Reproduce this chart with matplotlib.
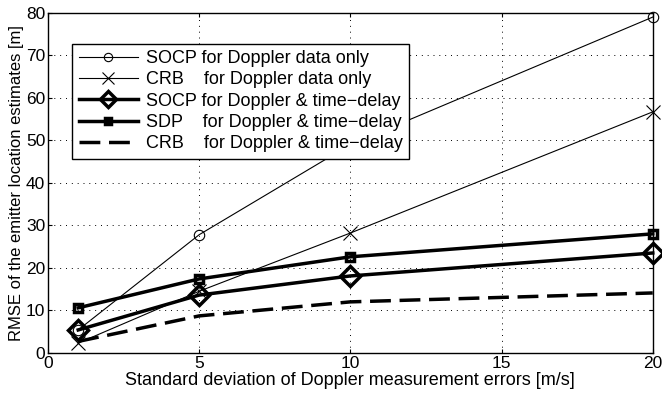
import matplotlib
matplotlib.use('Agg')
import matplotlib.pyplot as plt

plt.rcParams['font.family'] = ['Liberation Sans', 'DejaVu Sans']

sigma = [1, 5, 10, 20]
socp_dopp = [5.4, 27.8, 49.0, 79.0]
crb_dopp = [2.3, 14.5, 28.2, 56.7]
socp_both = [5.4, 13.6, 18.1, 23.5]
sdp_both = [10.6, 17.4, 22.6, 28.0]
crb_both = [2.7, 8.7, 12.0, 14.1]

labels = ['SOCP for Doppler data only',
          'CRB    for Doppler data only',
          'SOCP for Doppler & time\u2212delay',
          'SDP    for Doppler & time\u2212delay',
          'CRB    for Doppler & time\u2212delay']

fig = plt.figure(figsize=(6.62, 4.01), dpi=100)
ax = fig.add_axes([0.0725, 0.12, 0.9135, 0.848])

ax.plot(sigma, socp_dopp, '-', color='k', lw=0.8, marker='o', ms=7.5,
        mfc='none', mew=0.8, label=labels[0], clip_on=False, zorder=3)
ax.plot(sigma, crb_dopp, '-', color='k', lw=0.8, marker='x', ms=10,
        mew=0.8, label=labels[1], clip_on=False, zorder=3)
ax.plot(sigma, socp_both, '-', color='k', lw=2.5, marker='D', ms=10,
        mfc='none', mew=2.5, label=labels[2], clip_on=False, zorder=4)
ax.plot(sigma, sdp_both, '-', color='k', lw=2.5, marker='s', ms=6,
        mfc='none', mew=2.5, label=labels[3], clip_on=False, zorder=4)
ax.plot(sigma, crb_both, '--', color='k', lw=2.5, dashes=(6, 2.5),
        label=labels[4], clip_on=False, zorder=4)

ax.set_xlim(0, 20)
ax.set_ylim(0, 80)
ax.set_xticks([0, 5, 10, 15, 20])
ax.set_yticks(range(0, 81, 10))
ax.grid(True, linestyle=(0, (1, 5)), color='k', lw=0.7)
ax.tick_params(direction='in', top=True, right=True, labelsize=12.5, length=3,
               pad=2)
for s in ax.spines.values():
    s.set_linewidth(1.0)

ax.set_xlabel('Standard deviation of Doppler measurement errors [m/s]',
              fontsize=13, labelpad=1)
ax.set_ylabel('RMSE of the emitter location estimates [m]', fontsize=12,
              labelpad=1)

leg = ax.legend(loc='upper left', bbox_to_anchor=(0.04, 0.909), fontsize=13,
                frameon=True, fancybox=False, edgecolor='k', framealpha=1,
                handlelength=3.3, borderpad=0.35, labelspacing=0.24,
                handletextpad=0.45, borderaxespad=0, markerscale=0.8)
leg.get_frame().set_linewidth(1.0)

fig.savefig('out.png', dpi=100)
